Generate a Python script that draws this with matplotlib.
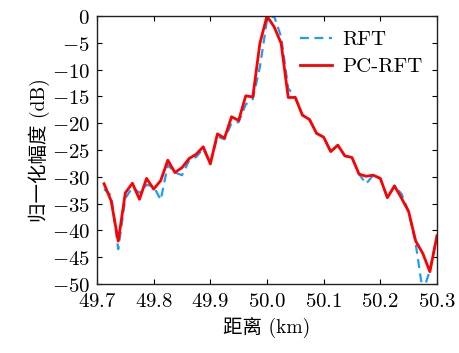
import numpy as np
import matplotlib
matplotlib.use('Agg')
from matplotlib import pyplot as plt

plt.rcParams['mathtext.fontset'] = 'cm'
plt.rcParams['axes.unicode_minus'] = True

# range samples (km), step 0.0125
distance = [49.7125, 49.725, 49.7375, 49.75, 49.7625, 49.775, 49.7875, 49.8,
            49.8125, 49.825, 49.8375, 49.85, 49.8625, 49.875, 49.8875, 49.9,
            49.9125, 49.925, 49.9375, 49.95, 49.9625, 49.975, 49.9875, 50.0,
            50.0125, 50.025, 50.0375, 50.05, 50.0625, 50.075, 50.0875, 50.1,
            50.1125, 50.125, 50.1375, 50.15, 50.1625, 50.175, 50.1875, 50.2,
            50.2125, 50.225, 50.2375, 50.25, 50.2625, 50.275, 50.2875, 50.3]

rft = [-32.3, -33.5, -43.5, -34.0, -32.0, -33.0, -31.5, -31.8,
       -34.3, -27.8, -29.2, -29.7, -27.0, -26.3, -24.8, -27.5,
       -22.5, -23.0, -20.0, -19.8, -16.5, -15.5, -9.5, -0.8,
       0.0, -3.9, -13.5, -15.2, -18.5, -19.3, -21.9, -22.6,
       -25.3, -24.1, -26.1, -26.4, -29.5, -31.3, -29.7, -30.3,
       -33.9, -31.7, -33.2, -36.5, -42.5, -51.5, -47.5, -41.0]

pc_rft = [-31.3, -34.5, -42.0, -33.0, -31.2, -34.2, -30.3, -32.3,
          -30.7, -26.9, -29.2, -28.3, -26.6, -25.8, -24.4, -27.6,
          -22.0, -22.8, -18.8, -19.5, -14.9, -15.1, -5.1, 0.0,
          -2.0, -5.1, -15.2, -15.2, -18.5, -19.3, -21.9, -22.6,
          -25.3, -24.1, -26.1, -26.4, -29.5, -29.9, -29.7, -30.3,
          -33.9, -31.7, -34.0, -36.5, -42.0, -44.3, -47.7, -41.0]

xticks = [49.7, 49.8, 49.9, 50.0, 50.1, 50.2, 50.3]
xtick_labels = ['49.7', '49.8', '49.9', '50.0', '50.1', '50.2', '50.3']
yticks = [-50, -45, -40, -35, -30, -25, -20, -15, -10, -5, 0]

fs = 15
cjk = ['cmr10', 'Noto Sans CJK SC', 'DejaVu Sans']

fig = plt.figure(figsize=(4.59, 3.53), dpi=100)
ax = fig.add_axes([0.2113, 0.1955, 0.952 - 0.2113, 0.9547 - 0.1955])

ax.plot(distance, rft, color='#1f9cf5', linestyle='--', linewidth=1.6,
        dashes=(4, 2.5), label='RFT')
ax.plot(distance, pc_rft, color='#ff0000', linewidth=2.0, label='PC-RFT')

ax.set_xlim(49.7, 50.3)
ax.set_ylim(-50, 0)
ax.set_xticks(xticks)
ax.set_xticklabels(['$%s$' % t for t in xtick_labels])
ax.set_yticks(yticks)
ax.set_yticklabels(['$%d$' % v if v == 0 else '$-%d$' % -v for v in yticks])
ax.tick_params(direction='in', top=True, right=True, length=3.5, width=0.8,
               labelsize=fs, pad=5)
for s in ax.spines.values():
    s.set_linewidth(1.0)
    s.set_color('#222222')

ax.set_xlabel('距离 (km)', family=cjk, fontsize=fs - 1, labelpad=4)
ax.set_ylabel('归一化幅度 (dB)', family=cjk, fontsize=fs - 1, labelpad=1)

ax.legend(loc='upper right', frameon=False, prop={'family': 'cmr10', 'size': fs},
          handlelength=1.5, handletextpad=0.5, labelspacing=0.4,
          borderaxespad=0.3)

fig.savefig('out.png', dpi=100)
